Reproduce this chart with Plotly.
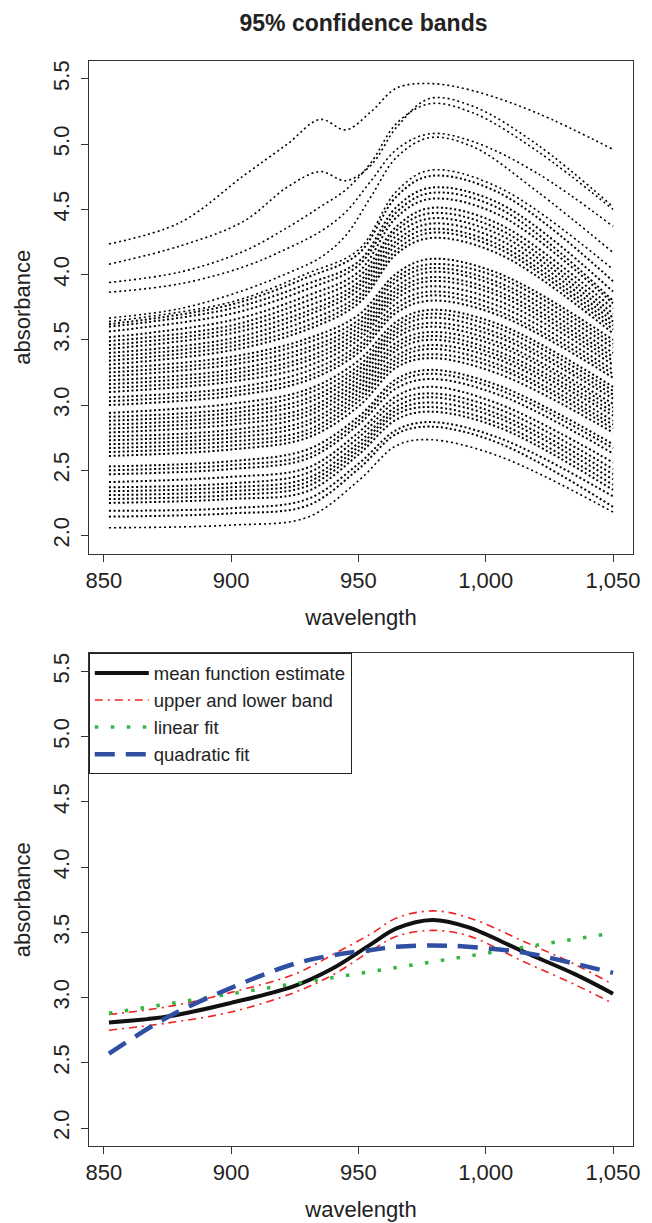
import plotly.graph_objects as go

# ---- top panel: spectra (at a few wavelengths) ----
# curves with the fat bump near 935 nm, sampled on a finer grid
WL_TOP = [852, 880, 905, 922, 935, 945, 955, 965, 978, 995, 1020, 1050]
TOP_CURVES = [
    [4.235, 4.40, 4.76, 5.00, 5.19, 5.11, 5.25, 5.43, 5.465, 5.41, 5.24, 4.96],
    [4.08, 4.22, 4.41, 4.67, 4.79, 4.72, 4.84, 5.13, 5.35, 5.29, 5.00, 4.52],
    [3.94, 4.02, 4.18, 4.36, 4.52, 4.65, 4.86, 5.16, 5.31, 5.24, 4.95, 4.50],
    [3.865, 3.93, 4.06, 4.20, 4.33, 4.48, 4.72, 4.96, 5.08, 5.02, 4.78, 4.37],
    [3.667, 3.74, 3.88, 4.01, 4.13, 4.30, 4.60, 4.90, 5.05, 4.98, 4.64, 4.17],
]

# the dense bundle, one array per wavelength (same curve order in each)
WL_DENSE = [852, 900, 930, 950, 965, 978, 1005, 1050]
D852 = [3.64, 3.62, 3.60, 3.565, 3.52, 3.49, 3.46, 3.43, 3.40, 3.37, 3.34, 3.31,
        3.28, 3.25, 3.22, 3.19, 3.16, 3.13, 3.10, 3.06, 3.03, 3.00, 2.94, 2.91,
        2.88, 2.85, 2.82, 2.79, 2.76, 2.73, 2.70, 2.67, 2.64, 2.61, 2.53, 2.50,
        2.47, 2.41, 2.37, 2.34, 2.31, 2.28, 2.25, 2.19, 2.145, 2.06]
D900 = [3.79, 3.77, 3.74, 3.70, 3.65, 3.61, 3.58, 3.55, 3.51, 3.48, 3.45, 3.42,
        3.37, 3.34, 3.31, 3.27, 3.24, 3.21, 3.18, 3.13, 3.10, 3.07, 3.01, 2.97,
        2.94, 2.91, 2.88, 2.85, 2.81, 2.78, 2.75, 2.72, 2.69, 2.66, 2.57, 2.54,
        2.51, 2.45, 2.40, 2.37, 2.34, 2.31, 2.28, 2.21, 2.17, 2.08]
D930 = [4.01, 3.98, 3.93, 3.89, 3.84, 3.80, 3.76, 3.72, 3.69, 3.65, 3.61, 3.58,
        3.51, 3.48, 3.44, 3.41, 3.37, 3.34, 3.30, 3.26, 3.22, 3.19, 3.12, 3.09,
        3.05, 3.02, 2.98, 2.95, 2.92, 2.88, 2.85, 2.81, 2.78, 2.75, 2.66, 2.62,
        2.59, 2.52, 2.48, 2.44, 2.41, 2.38, 2.34, 2.28, 2.23, 2.14]
D950 = [4.19, 4.16, 4.10, 4.07, 4.02, 3.98, 3.94, 3.91, 3.88, 3.84, 3.81, 3.78,
        3.69, 3.65, 3.62, 3.59, 3.56, 3.53, 3.50, 3.46, 3.43, 3.40, 3.34, 3.30,
        3.27, 3.24, 3.21, 3.18, 3.15, 3.12, 3.09, 3.06, 3.03, 2.99, 2.91, 2.88,
        2.85, 2.79, 2.75, 2.71, 2.68, 2.65, 2.62, 2.55, 2.51, 2.42]
D965 = [4.64, 4.60, 4.52, 4.48, 4.44, 4.37, 4.34, 4.30, 4.26, 4.23, 4.19, 4.16,
        4.01, 3.98, 3.95, 3.91, 3.88, 3.85, 3.82, 3.78, 3.74, 3.71, 3.64, 3.61,
        3.58, 3.55, 3.52, 3.48, 3.45, 3.42, 3.38, 3.35, 3.32, 3.29, 3.20, 3.17,
        3.13, 3.07, 3.03, 2.99, 2.96, 2.93, 2.89, 2.81, 2.78, 2.69]
D978 = [4.80, 4.755, 4.665, 4.625, 4.58, 4.51, 4.47, 4.43, 4.39, 4.35, 4.32, 4.28,
        4.12, 4.08, 4.05, 4.02, 3.98, 3.95, 3.91, 3.87, 3.84, 3.80, 3.73, 3.70,
        3.67, 3.63, 3.60, 3.56, 3.53, 3.50, 3.46, 3.43, 3.39, 3.36, 3.27, 3.24,
        3.20, 3.14, 3.09, 3.06, 3.02, 2.985, 2.95, 2.87, 2.835, 2.735]
D1005 = [4.67, 4.63, 4.55, 4.51, 4.46, 4.39, 4.35, 4.31, 4.27, 4.23, 4.20, 4.16,
         4.01, 3.98, 3.94, 3.91, 3.87, 3.84, 3.80, 3.76, 3.72, 3.69, 3.62, 3.59,
         3.55, 3.52, 3.48, 3.45, 3.41, 3.38, 3.35, 3.31, 3.28, 3.24, 3.15, 3.12,
         3.08, 3.01, 2.97, 2.93, 2.90, 2.86, 2.83, 2.75, 2.71, 2.61]
D1050 = [4.04, 3.95, 3.87, 3.80, 3.78, 3.74, 3.70, 3.67, 3.64, 3.61, 3.58, 3.55,
         3.50, 3.47, 3.44, 3.40, 3.37, 3.34, 3.31, 3.27, 3.24, 3.21, 3.14, 3.11,
         3.08, 3.05, 3.01, 2.98, 2.95, 2.92, 2.88, 2.85, 2.82, 2.79, 2.70, 2.67,
         2.63, 2.56, 2.51, 2.47, 2.43, 2.39, 2.35, 2.30, 2.22, 2.18]

# ---- bottom panel: estimates ----
WL_BOT = [852, 875, 900, 925, 940, 955, 965, 979, 993, 1015, 1035, 1050]
MEAN_EST = [2.81, 2.855, 2.96, 3.09, 3.225, 3.41, 3.53, 3.595, 3.54, 3.35, 3.18, 3.03]
UPPER_BAND = [2.87, 2.93, 3.04, 3.18, 3.33, 3.49, 3.61, 3.665, 3.615, 3.43, 3.255, 3.10]
LOWER_BAND = [2.75, 2.805, 2.89, 3.04, 3.175, 3.36, 3.47, 3.515, 3.475, 3.275, 3.10, 2.955]
QUAD_FIT = [2.57, 2.85, 3.075, 3.26, 3.325, 3.365, 3.39, 3.40, 3.39, 3.345, 3.26, 3.19]
WL_LIN = [852, 1050]
LIN_FIT = [2.88, 3.495]

X_TICKS = [850, 900, 950, 1000, 1050]
X_TICKTEXT = ['850', '900', '950', '1,000', '1,050']
Y_TICKS = [2.0, 2.5, 3.0, 3.5, 4.0, 4.5, 5.0, 5.5]

FONT = 'Liberation Sans, Arial, Helvetica, sans-serif'
INK = '#222222'

# the page body keeps its default 8px margin, so the figure is 8px smaller
W, H = 644, 1215
OFF = 8

fig = go.Figure()

top_line = dict(color='black', width=1.6, dash='2px,3px', shape='spline')
dense_line = dict(color='black', width=2.0, dash='2px,2.5px', shape='spline')
for curve in TOP_CURVES:
    fig.add_trace(go.Scatter(x=WL_TOP, y=curve, mode='lines', line=top_line,
                             showlegend=False, hoverinfo='skip', xaxis='x', yaxis='y'))

for i in range(len(D852)):
    ys = [D852[i], D900[i], D930[i], D950[i], D965[i], D978[i], D1005[i], D1050[i]]
    lw = top_line if i in (0, len(D852) - 1) else dense_line
    fig.add_trace(go.Scatter(x=WL_DENSE, y=ys, mode='lines', line=lw,
                             showlegend=False, hoverinfo='skip', xaxis='x', yaxis='y'))

# bottom panel
band = dict(color='#ee2222', width=1.6, dash='8px,5px,2px,5px', shape='spline')
fig.add_trace(go.Scatter(x=WL_BOT, y=MEAN_EST, mode='lines', name='mean function estimate',
                         line=dict(color='#111111', width=4, shape='spline'),
                         xaxis='x2', yaxis='y2'))
fig.add_trace(go.Scatter(x=WL_BOT, y=UPPER_BAND, mode='lines', name='upper and lower band',
                         line=band, xaxis='x2', yaxis='y2'))
fig.add_trace(go.Scatter(x=WL_BOT, y=LOWER_BAND, mode='lines', name='upper and lower band',
                         line=band, xaxis='x2', yaxis='y2', showlegend=False))
fig.add_trace(go.Scatter(x=WL_LIN, y=LIN_FIT, mode='lines', name='linear fit',
                         line=dict(color='#33b540', width=3.5, dash='3.5px,12.5px'),
                         xaxis='x2', yaxis='y2'))
fig.add_trace(go.Scatter(x=WL_BOT, y=QUAD_FIT, mode='lines', name='quadratic fit',
                         line=dict(color='#2f4fa3', width=4.5, dash='20px,11px', shape='spline'),
                         xaxis='x2', yaxis='y2'))


def px_x(p):
    return (p - OFF) / W


def px_y(p):
    return 1 - (p - OFF) / H


xdom = [px_x(87), px_x(640)]
axis_common = dict(showline=True, mirror=True, linecolor='#333333', linewidth=1,
                   ticks='outside', ticklen=7, tickcolor='#333333', showgrid=False,
                   zeroline=False, tickfont=dict(size=22, color=INK, family=FONT))

xaxis_style = dict(axis_common, range=[844.08, 1057.92], tickvals=X_TICKS, ticktext=X_TICKTEXT,
                   ticklabelstandoff=0,
                   title=dict(text='wavelength', font=dict(size=22, color=INK, family=FONT),
                              standoff=17))
yaxis_style = dict(axis_common, range=[1.862, 5.638], tickvals=Y_TICKS, tickformat='.1f',
                   tickangle=-90, ticklabelstandoff=3,
                   title=dict(text='absorbance', font=dict(size=22, color=INK, family=FONT),
                              standoff=12))

fig.update_layout(
    width=W, height=H, autosize=False,
    margin=dict(l=0, r=0, t=0, b=0),
    paper_bgcolor='white', plot_bgcolor='white',
    font=dict(family=FONT, color=INK),
    title=dict(text='<b>95% confidence bands</b>', x=px_x(363.5), xanchor='center',
               y=px_y(23), yanchor='middle', font=dict(size=23, color=INK, family=FONT)),
    xaxis=dict(xaxis_style, domain=xdom, anchor='y'),
    yaxis=dict(yaxis_style, domain=[px_y(553), px_y(60)], anchor='x'),
    xaxis2=dict(xaxis_style, domain=xdom, anchor='y2'),
    yaxis2=dict(yaxis_style, domain=[px_y(1146), px_y(653)], anchor='x2'),
    legend=dict(x=px_x(87), y=px_y(653), xanchor='left', yanchor='top',
                bgcolor='white', bordercolor='#222222', borderwidth=1, itemwidth=54,
                font=dict(size=18.5, color=INK, family=FONT), traceorder='normal'),
)

fig.write_html("out.html")
